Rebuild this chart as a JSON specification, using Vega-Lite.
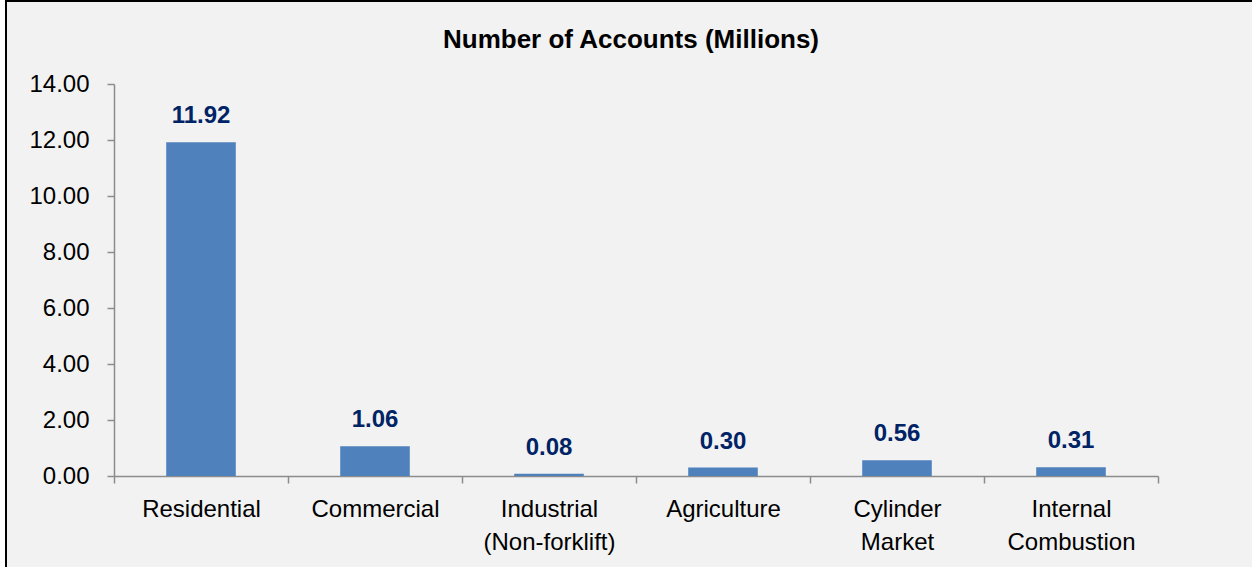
{
  "$schema": "https://vega.github.io/schema/vega-lite/v6.json",
  "width": 1246,
  "height": 566,
  "autosize": {"type": "none"},
  "padding": {"left": 6, "top": 1, "right": 0, "bottom": 0},
  "background": "#ffffff",
  "config": {
    "view": {"stroke": "#000000", "strokeWidth": 2, "strokeDash": [1246, 1812, 566], "fill": "#f2f2f2"},
    "font": "Liberation Sans"
  },
  "title": {
    "text": "Number of Accounts (Millions)",
    "fontSize": 26,
    "fontWeight": "bold",
    "color": "#000000",
    "anchor": "middle",
    "frame": "group",
    "offset": -52,
    "dx": 2,
    "font": "Liberation Sans"
  },
  "data": {
    "values": [
      {"category": "Residential", "accounts": 11.92},
      {"category": "Commercial", "accounts": 1.06},
      {"category": "Industrial (Non-forklift)", "accounts": 0.08},
      {"category": "Agriculture", "accounts": 0.30},
      {"category": "Cylinder Market", "accounts": 0.56},
      {"category": "Internal Combustion", "accounts": 0.31}
    ]
  },
  "encoding": {
    "x": {
      "field": "category",
      "type": "nominal",
      "sort": null,
      "scale": {"range": [108, 1152], "paddingInner": 0, "paddingOuter": 0},
      "axis": {
        "orient": "bottom",
        "offset": -91,
        "title": null,
        "tickBand": "extent",
        "tickSize": 7,
        "tickColor": "#8c8c8c",
        "tickWidth": 1.5,
        "domainColor": "#8c8c8c",
        "domainWidth": 1.5,
        "labelAngle": 0,
        "labelFontSize": 24,
        "labelColor": "#000000",
        "labelPadding": 14,
        "labelLimit": 0,
        "labelLineHeight": 33,
        "labelExpr": "split(datum.label, ' ')"
      }
    },
    "y": {
      "field": "accounts",
      "type": "quantitative",
      "scale": {"domain": [0, 14], "range": [475, 83], "nice": false},
      "axis": {
        "orient": "left",
        "offset": -108,
        "title": null,
        "values": [0, 2, 4, 6, 8, 10, 12, 14],
        "format": ".2f",
        "grid": false,
        "tickSize": 7,
        "tickColor": "#8c8c8c",
        "tickWidth": 1.5,
        "domainColor": "#8c8c8c",
        "domainWidth": 1.5,
        "labelFontSize": 24,
        "labelColor": "#000000",
        "labelPadding": 18
      }
    }
  },
  "layer": [
    {"mark": {"type": "bar", "color": "#4F81BD", "width": {"band": 0.4}}},
    {
      "mark": {"type": "text", "dy": -19, "baseline": "alphabetic", "fontWeight": "bold", "fontSize": 24, "color": "#002366"},
      "encoding": {"text": {"field": "accounts", "type": "quantitative", "format": ".2f"}}
    }
  ]
}
